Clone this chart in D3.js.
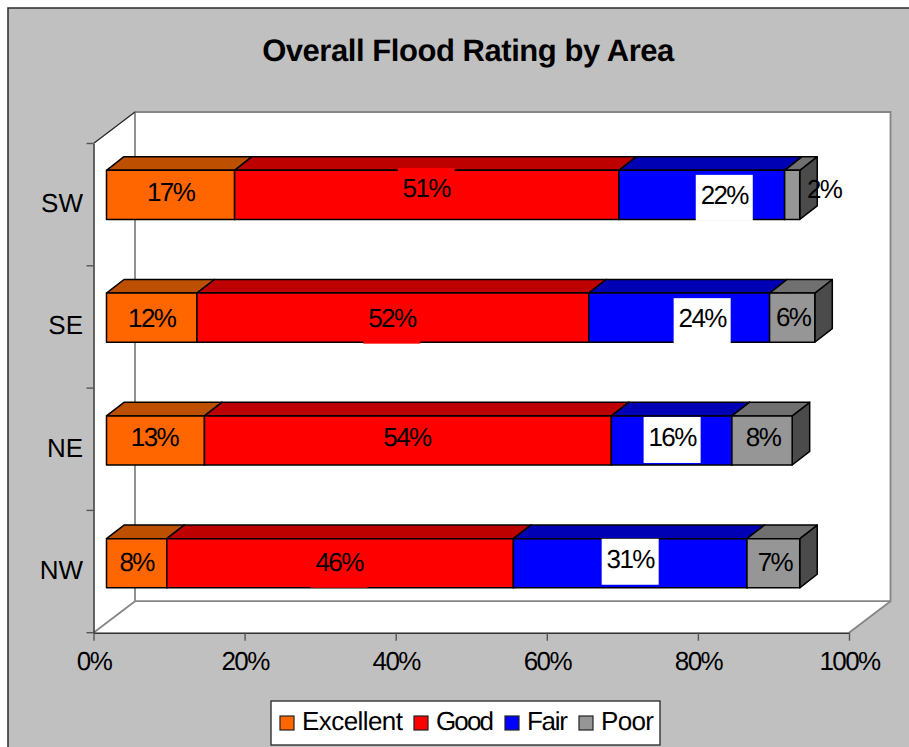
<!DOCTYPE html>
<html>
<head>
<meta charset="utf-8">
<style>
  html, body { margin: 0; padding: 0; background: #fff; }
  svg { display: block; text-rendering: geometricPrecision; }
  text { font-family: "Liberation Sans", Arial, sans-serif; fill: #000; }
</style>
<script src="https://cdn.jsdelivr.net/npm/d3@7/dist/d3.min.js"></script>
</head>
<body>
<svg id="chart" width="909" height="747"></svg>
<script>
// Flood ratings per area, in percent
const areas = ["SW", "SE", "NE", "NW"];
const ratings = ["Excellent", "Good", "Fair", "Poor"];
const excellent = [17, 12, 13, 8];
const good = [51, 52, 54, 46];
const fair = [22, 24, 16, 31];
const poor = [2, 6, 8, 7];
const percentTicks = [0, 20, 40, 60, 80, 100];

const seriesValues = { Excellent: excellent, Good: good, Fair: fair, Poor: poor };
const rows = areas.map((area, i) => {
  const row = { area };
  ratings.forEach(r => { row[r] = seriesValues[r][i]; });
  return row;
});

// Face colours of each rating: front, top (75%), side (50%)
const faces = {
  Excellent: ["#ff6600", "#bd4f00", "#803300"],
  Good: ["#ff0000", "#bd0000", "#800000"],
  Fair: ["#0000ff", "#0000b4", "#000080"],
  Poor: ["#969696", "#707070", "#4b4b4b"]
};
// Label plates behind the percentages
const plates = { Good: "#ff0000", Fair: "#ffffff" };
// Hand placement of labels relative to the segment centre: [dx, dy]
const labelNudges = {
  "SW|Excellent": [0, -2.5], "SW|Good": [-0.5, -7], "SW|Fair": [22.5, 0], "SW|Poor": [32, -6],
  "SE|Excellent": [0, 0], "SE|Good": [-1, 0], "SE|Fair": [23, 0.5], "SE|Poor": [1, -0.5],
  "NE|Excellent": [-1, -3.5], "NE|Good": [-1, -3.5], "NE|Fair": [0.5, -3.5], "NE|Poor": [1, -3.5],
  "NW|Excellent": [0, -1.5], "NW|Good": [-1, -1.5], "NW|Fair": [0, -4.5], "NW|Poor": [1.5, -1.5]
};
// Legend text runs
const legendTextWidths = [101, 58, 41, 53];

const svg = d3.select("#chart");

// Value and category scales on the front edge of the 3D box
const x = d3.scaleLinear().domain([0, 100]).range([93.5, 849]);
const y = d3.scaleBand().domain(areas).range([143.5, 632.7]).paddingInner(0.6).paddingOuter(0.3);
// Same values on the plane the bars stand on, set back into the box
const barX = d3.scaleLinear().domain([0, 100]).range([106.5, 860]);
const barY = d3.scaleBand().domain(areas).range([133.46, 624.66]).paddingInner(0.6).paddingOuter(0.3);

// Box depth and bar depth
const depthX = 41.5, depthY = 31.5;
const barDepthX = 17.5, barDepthY = 13.6;

const poly = pts => pts.map(p => p.join(",")).join(" ");

// Chart area
svg.append("rect").attr("x", 8).attr("y", 8).attr("width", 920).attr("height", 760)
  .attr("fill", "#c0c0c0").attr("stroke", "#2b2b2b").attr("stroke-width", 1.5);

// Title
svg.append("text").attr("x", 468).attr("y", 61).attr("text-anchor", "middle")
  .style("font-size", "31px").style("font-weight", "bold").style("letter-spacing", "-0.45px")
  .text("Overall Flood Rating by Area");

// Walls and floor
const [x0, x1] = x.range();
const yTop = y.range()[0], yBottom = y.range()[1];
svg.append("polygon")
  .attr("points", poly([[x0, yTop], [x0 + depthX, yTop - depthY], [x1 + depthX, yTop - depthY],
    [x1 + depthX, yBottom - depthY], [x1, yBottom], [x0, yBottom]]))
  .attr("fill", "#fff");
svg.append("path")
  .attr("d", `M${x0 + depthX},${yBottom - depthY}V${yTop - depthY}H${x1 + depthX}V${yBottom - depthY}Z`
    + `M${x0},${yBottom}L${x0 + depthX},${yBottom - depthY}M${x1},${yBottom}L${x1 + depthX},${yBottom - depthY}`)
  .attr("fill", "none").attr("stroke", "#868686").attr("stroke-width", 1.8);
svg.append("line")
  .attr("x1", x0).attr("y1", yTop).attr("x2", x0 + depthX).attr("y2", yTop - depthY)
  .attr("stroke", "#222").attr("stroke-width", 1.2);

// Axes
const axisBottom = svg.append("g").attr("transform", `translate(0,${yBottom})`)
  .call(d3.axisBottom(x).tickValues(percentTicks).tickFormat(d => d + "%").tickSize(8).tickSizeOuter(0));
const axisLeft = svg.append("g").attr("transform", `translate(${x0},0)`)
  .call(d3.axisLeft(y).tickSize(0).tickPadding(10.5));
[axisBottom, axisLeft].forEach(g => {
  g.select(".domain").attr("stroke", "#333").attr("stroke-width", 1.5);
  g.selectAll(".tick line").attr("stroke", "#555").attr("stroke-width", 1.4);
  g.selectAll(".tick text").attr("fill", "#000")
    .style("font-family", '"Liberation Sans", Arial, sans-serif')
    .style("font-size", "26px");
});
axisBottom.selectAll(".tick text").attr("y", 18.5).style("letter-spacing", "-1.6px");
axisLeft.selectAll(".tick text").attr("dy", "0.29em");

// Category separators on the left edge
svg.append("g").selectAll("line")
  .data(d3.range(areas.length + 1))
  .join("line")
  .attr("x1", x0 - 7).attr("x2", x0)
  .attr("y1", i => yTop + i * y.step()).attr("y2", i => yTop + i * y.step())
  .attr("stroke", "#555").attr("stroke-width", 1.4);

// Stacked 3D bars
const stacked = d3.stack().keys(ratings)(rows);
const bh = barY.bandwidth();

const bars = svg.append("g").attr("stroke", "#000").attr("stroke-width", 1.5)
  .attr("stroke-linejoin", "round");
areas.forEach((area, ai) => {
  stacked.forEach(series => {
    const [a, b] = series[ai];
    const c = faces[series.key];
    const xa = barX(a), xb = barX(b), t = barY(area), u = t + bh;
    const g = bars.append("g");
    g.append("polygon").attr("fill", c[2])
      .attr("points", poly([[xb, t], [xb + barDepthX, t - barDepthY], [xb + barDepthX, u - barDepthY], [xb, u]]));
    g.append("polygon").attr("fill", c[1])
      .attr("points", poly([[xa, t], [xa + barDepthX, t - barDepthY], [xb + barDepthX, t - barDepthY], [xb, t]]));
    g.append("rect").attr("fill", c[0]).attr("x", xa).attr("y", t).attr("width", xb - xa).attr("height", bh);
  });
});

// Value labels, with plates for the series that have them
const labels = svg.append("g");
areas.forEach((area, ai) => {
  stacked.forEach(series => {
    const [a, b] = series[ai];
    const [dx, dy] = labelNudges[area + "|" + series.key];
    const cx = (barX(a) + barX(b)) / 2 + dx;
    const cy = barY(area) + bh / 2 + dy;
    if (plates[series.key]) {
      labels.append("rect").attr("x", cx - 28.5).attr("y", cy - 20).attr("width", 57).attr("height", 46)
        .attr("fill", plates[series.key]);
    }
    labels.append("text").attr("x", cx).attr("y", cy).attr("dy", "0.35em").attr("text-anchor", "middle")
      .style("font-size", "26px").style("letter-spacing", "-1.6px")
      .text((b - a) + "%");
  });
});

// Legend
const legend = svg.append("g");
legend.append("rect").attr("x", 271).attr("y", 701).attr("width", 389).attr("height", 44)
  .attr("fill", "#fff").attr("stroke", "#333").attr("stroke-width", 1.4);
let cursor = 280;
ratings.forEach((r, i) => {
  legend.append("rect").attr("x", cursor).attr("y", 716).attr("width", 14).attr("height", 14)
    .attr("fill", faces[r][0]).attr("stroke", "#222").attr("stroke-width", 1.2);
  legend.append("text").attr("x", cursor + 22).attr("y", 730)
    .attr("textLength", legendTextWidths[i]).attr("lengthAdjust", "spacing")
    .style("font-size", "26px").text(r);
  cursor += 22 + legendTextWidths[i] + 11;
});
</script>
</body>
</html>
